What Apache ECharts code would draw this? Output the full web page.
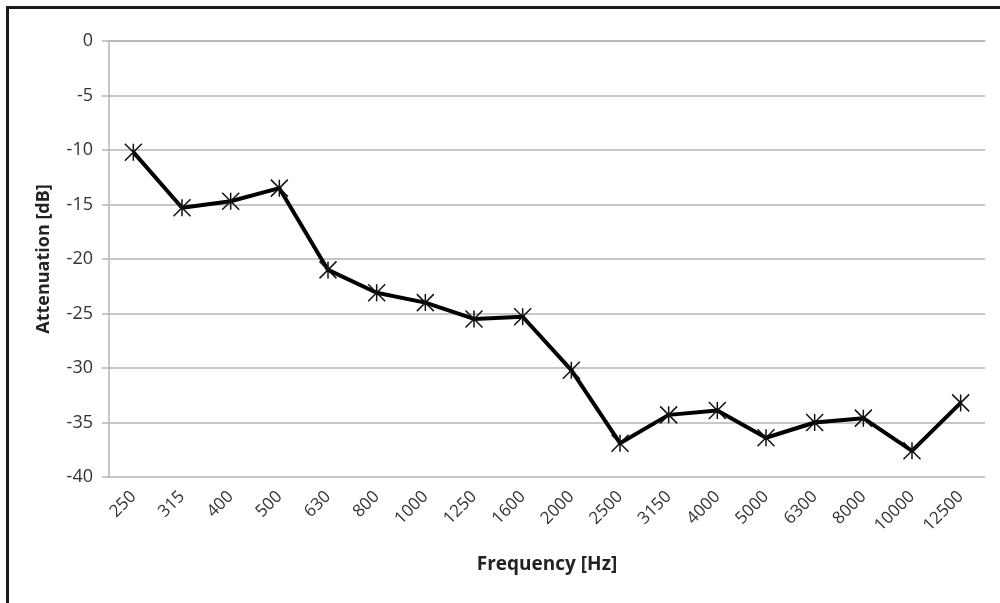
<!DOCTYPE html>
<html>
<head>
<meta charset="utf-8">
<script src="https://cdn.jsdelivr.net/npm/echarts@6/dist/echarts.min.js"></script>
<style>
html,body{margin:0;padding:0;background:#fff;}
#frame{position:absolute;left:6px;top:6px;width:992px;height:600px;border-top:3px solid #1a1a1a;border-left:3px solid #1a1a1a;}
#chart{position:absolute;left:0;top:0;width:1000px;height:603px;}
</style>
</head>
<body>
<div id="frame"></div>
<div id="chart"></div>
<script>
const categories = ['250','315','400','500','630','800','1000','1250','1600','2000','2500','3150','4000','5000','6300','8000','10000','12500'];
const attenuation = [-10.2,-15.3,-14.7,-13.5,-21.0,-23.1,-24.0,-25.5,-25.3,-30.2,-36.9,-34.3,-33.9,-36.4,-35.0,-34.6,-37.6,-33.2];
const yTicks = {min:-40, max:0, interval:5};

const chart = echarts.init(document.getElementById('chart'));
const font = "'Open Sans', 'Noto Sans', sans-serif";
chart.setOption({
  animation:false,
  backgroundColor:'transparent',
  grid:{left:109, top:41, right:15, bottom:126},
  xAxis:{
    type:'category',
    data:categories,
    boundaryGap:true,
    name:'Frequency [Hz]',
    nameLocation:'middle',
    nameGap:78,
    nameTextStyle:{fontFamily:font, fontSize:19, fontWeight:'bold', color:'#222'},
    axisLine:{lineStyle:{color:'#b5b5b5', width:1.5}},
    axisTick:{show:false},
    axisLabel:{rotate:45, fontFamily:font, fontSize:17, color:'#333', margin:17, interval:0}
  },
  yAxis:{
    type:'value',
    min:yTicks.min, max:yTicks.max, interval:yTicks.interval,
    name:'Attenuation [dB]',
    nameLocation:'middle',
    nameGap:56,
    nameTextStyle:{fontFamily:font, fontSize:18, fontWeight:'bold', color:'#222'},
    axisLine:{show:true, lineStyle:{color:'#b5b5b5', width:1.5}},
    axisTick:{show:true, length:7, lineStyle:{color:'#b5b5b5', width:1.5}},
    axisLabel:{fontFamily:font, fontSize:18, color:'#333', margin:16},
    splitLine:{lineStyle:{color:'#b5b5b5', width:1.5}}
  },
  series:[{
    type:'line',
    data:attenuation,
    lineStyle:{color:'#000', width:4},
    symbol:'path://M0 0L10 10M10 0L0 10M5 0L5 10',
    symbolSize:17,
    itemStyle:{color:'#000', borderColor:'#111', borderWidth:1.5},
    z:3
  }]
});
</script>
</body>
</html>
